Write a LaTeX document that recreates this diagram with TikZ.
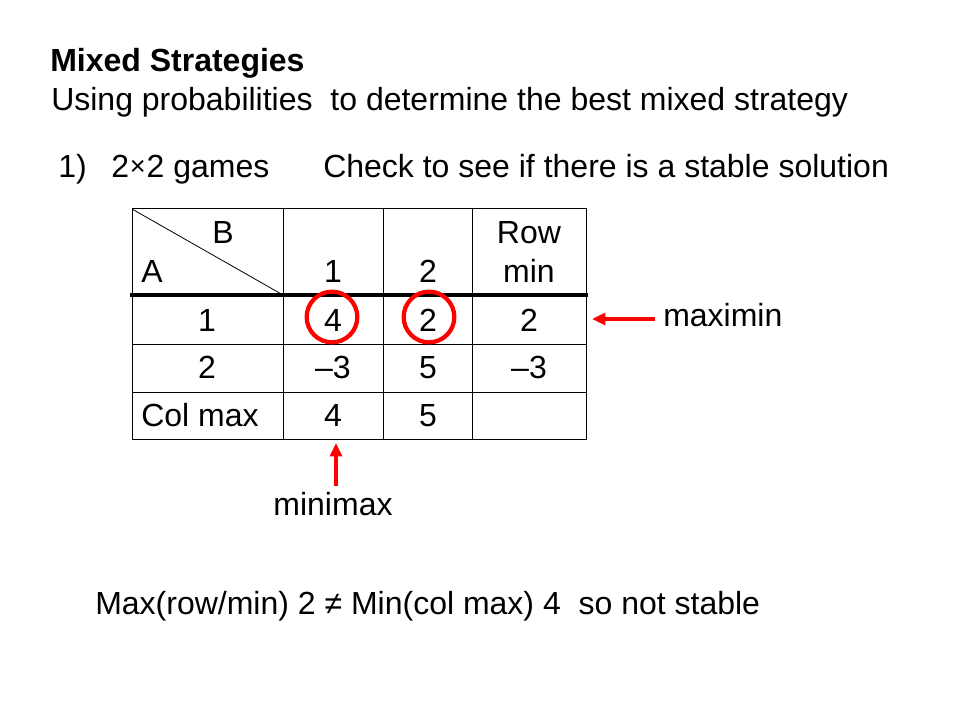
\documentclass[tikz,border=0pt]{standalone}
\usepackage{fontspec}
\usepackage{graphicx}
\setmainfont{Liberation Sans}
\usetikzlibrary{arrows.meta}
\definecolor{hired}{RGB}{255,0,0}
\begin{document}
\begin{tikzpicture}[x=0.75pt,y=-0.75pt,
  font=\fontsize{24}{28}\selectfont,
  ctxt/.style={inner sep=0pt, anchor=base},
  ltxt/.style={inner sep=0pt, anchor=base west},
  gridline/.style={line width=0.75pt},
  heavyline/.style={line width=3pt},
  redarrow/.style={draw=hired, line width=2.8pt, -{Triangle[length=10pt,width=9pt]}},
  ring/.style={circle, draw=hired, line width=3.2pt, minimum size=38pt, inner sep=0pt}]
\fill[white] (0,0) rectangle (960,720);
\useasboundingbox (0,0) rectangle (960,720);

% headings
\node[ltxt] (title) at (50,72) {\bfseries Mixed Strategies};
\node[ltxt] (sub) at (51,111) {Using probabilities\ \ to determine the best mixed strategy};
\node[ltxt] (num) at (58,178) {1)};
\node[ltxt] (games) at (111,178) {2\makebox[0.55em]{\raisebox{1.8pt}{\scalebox{0.85}{\texttimes}}}2 games};
\node[ltxt] (check) at (323,178) {Check to see if there is a stable solution};

% table grid
\draw[gridline] (132,209) rectangle (586,439);
\foreach \xx in {283,383,472} \draw[gridline] (\xx,209) -- (\xx,439);
\foreach \yy in {344,392} \draw[gridline] (132,\yy) -- (586,\yy);
\draw[line width=0.6pt] (132,209) -- (283,295);
\draw[heavyline] (130,295) -- (588,295);

% header
\node[ctxt] (hB) at (223,244) {B};
\node[ltxt] (hA) at (141,283) {A};
\node[ctxt] (h1) at (333,283) {1};
\node[ctxt] (h2) at (428,283) {2};
\node[ctxt] (hRow) at (529,244) {Row};
\node[ctxt] (hmin) at (529,283) {min};

% row 1
\node[ctxt] (r1a) at (207,331) {1};
\node[ctxt] (r1b) at (333,331) {4};
\node[ctxt] (r1c) at (428,331) {2};
\node[ctxt] (r1d) at (529,331) {2};
% row 2
\node[ctxt] (r2a) at (207,378) {2};
\node[ctxt] (r2b) at (333,378) {\textendash3};
\node[ctxt] (r2c) at (428,378) {5};
\node[ctxt] (r2d) at (529,378) {\textendash3};
% row 3
\node[ctxt] (r3a) at (200,426) {Col max};
\node[ctxt] (r3b) at (333,426) {4};
\node[ctxt] (r3c) at (428,426) {5};

% circles
\node[ring] (ring4) at (332,317) {};
\node[ring] (ring2) at (429,317) {};

% maximin
\node[ltxt] (maximin) at (663,326) {maximin};
\coordinate (maxtail) at (655,319);
\coordinate (maxtip) at (592,319);
\draw[redarrow] (maxtail) -- (maxtip);

% minimax
\node[ctxt] (minimax) at (333,515) {minimax};
\coordinate (mintail) at (336,486);
\coordinate (mintip) at (336,443);
\draw[redarrow] (mintail) -- (mintip);

% conclusion
\node[ltxt] (concl) at (95,614) {Max(row/min) 2 \char"2260\ Min(col max) 4\ \ so not stable};
\end{tikzpicture}
\end{document}
